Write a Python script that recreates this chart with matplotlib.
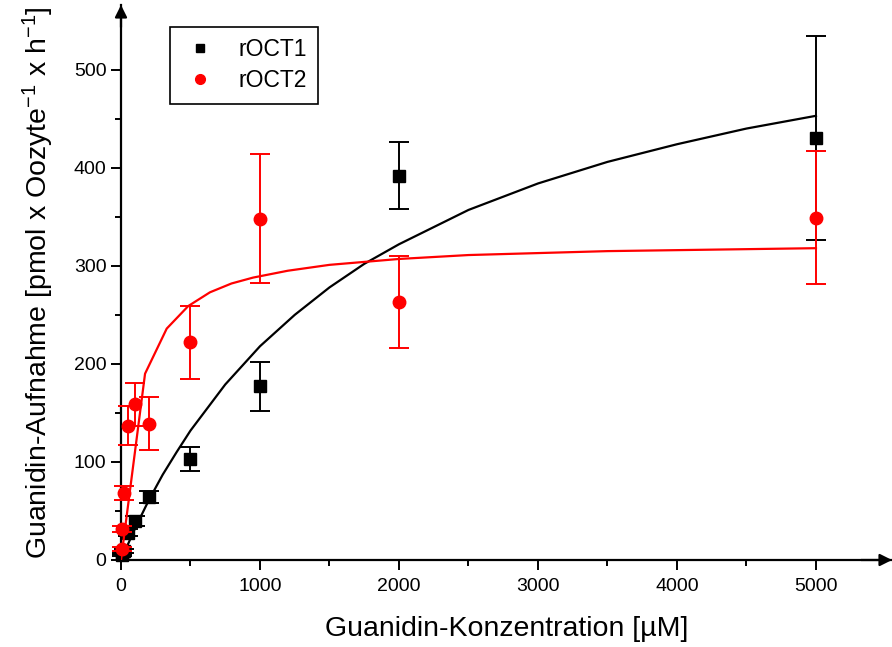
import matplotlib
matplotlib.use('Agg')
import matplotlib.pyplot as plt
from matplotlib.lines import Line2D

plt.rcParams['font.family'] = ['Liberation Sans', 'DejaVu Sans']
plt.rcParams['mathtext.default'] = 'regular'

RED = '#ff0000'

# Messpunkte
conc = [5, 10, 25, 50, 100, 200, 500, 1000, 2000, 5000]
roct1 = [5, 7, 9, 28, 40, 64, 103, 177, 392, 430]
roct1_err = [1, 1, 2, 4, 5, 6, 12, 25, 34, 104]
roct2 = [11, 32, 68, 137, 159, 139, 222, 348, 263, 349]
roct2_err = [2, 3, 7, 20, 22, 27, 37, 66, 47, 68]

# Fitkurven
fit1_x = [0, 100, 200, 300, 400, 500, 750, 1000, 1250, 1500, 1750, 2000, 2500, 3000, 3500, 4000, 4500, 5000]
fit1_y = [0, 32, 61, 87, 110, 132, 179, 218, 250, 278, 302, 322, 357, 384, 406, 424, 440, 453]
fit2_x = [0, 173, 329, 484, 640, 795, 950, 1200, 1500, 2000, 2500, 3000, 3500, 4000, 4500, 5000]
fit2_y = [0, 190, 236, 259, 273, 282, 288, 295, 301, 307, 311, 313, 315, 316, 317, 318]

x_ticks = [0, 1000, 2000, 3000, 4000, 5000]
y_ticks = [0, 100, 200, 300, 400, 500]

fig = plt.figure(figsize=(8.92, 6.47), dpi=100)
ax = fig.add_axes([121 / 892, 87 / 647, 771 / 892, 555 / 647])

ax.plot(fit1_x, fit1_y, color='k', lw=1.6, zorder=2)
ax.errorbar(conc, roct1, yerr=roct1_err, fmt='s', color='k', ms=8, capsize=7.5,
            elinewidth=1.4, capthick=1.4, clip_on=False, zorder=3)
ax.plot(fit2_x, fit2_y, color=RED, lw=1.6, zorder=4)
ax.errorbar(conc, roct2, yerr=roct2_err, fmt='o', color=RED, ms=9, capsize=7.5,
            elinewidth=1.4, capthick=1.4, clip_on=False, zorder=5)

ax.set_xlim(0, 5547)
ax.set_ylim(0, 566)
ax.set_xticks(x_ticks)
ax.set_yticks(y_ticks)
ax.set_xticks(range(500, 5500, 1000), minor=True)
ax.set_yticks(range(50, 550, 100), minor=True)
ax.tick_params(which='major', direction='out', length=7, width=1.4, labelsize=14)
ax.tick_params(axis='x', which='major', pad=6)
ax.tick_params(which='minor', direction='out', length=4, width=1.4)

for side in ['top', 'right']:
    ax.spines[side].set_visible(False)
for side in ['left', 'bottom']:
    ax.spines[side].set_linewidth(1.6)

# Pfeile an den Achsen
ax.annotate('', xy=(1, 0), xytext=(0.96, 0), xycoords='axes fraction',
            arrowprops=dict(arrowstyle='-|>', color='k', lw=1.6, mutation_scale=18,
                            shrinkA=0, shrinkB=0))
ax.annotate('', xy=(0, 1), xytext=(0, 0.96), xycoords='axes fraction',
            arrowprops=dict(arrowstyle='-|>', color='k', lw=1.6, mutation_scale=18,
                            shrinkA=0, shrinkB=0))

ax.set_xlabel('Guanidin-Konzentration [µM]', fontsize=20.5, labelpad=15)
ax.set_ylabel('Guanidin-Aufnahme [pmol x Oozyte$^{-1}$ x h$^{-1}$]', fontsize=20.5, labelpad=13)

handles = [Line2D([], [], marker='s', color='k', ls='none', ms=6),
           Line2D([], [], marker='o', color=RED, ls='none', ms=7)]
leg = ax.legend(handles, ['rOCT1', 'rOCT2'], loc='upper left',
                bbox_to_anchor=(49 / 771, 1 - 22 / 555), borderaxespad=0, fontsize=16.5,
                frameon=True, fancybox=False, edgecolor='k', framealpha=1,
                handlelength=1.6, handletextpad=0.87, borderpad=0.5, labelspacing=0.35)
leg.get_frame().set_linewidth(1.2)

fig.savefig('out.png', dpi=100)
